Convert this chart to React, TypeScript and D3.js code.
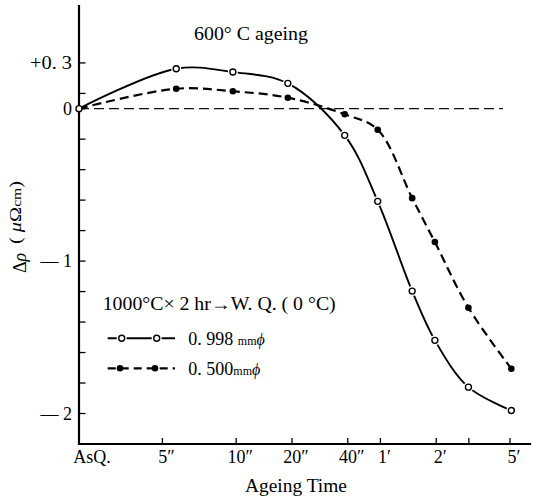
import React from "react";
import * as d3 from "d3";

// ---- data ----
const ASQ_T = 1.42; // pseudo-time (s) used to place the as-quenched state on the log axis
const TIMES = [ASQ_T, 4.75, 9.6, 19, 38.5, 58, 89, 118, 179, 305]; // seconds
const WIRE_0998 = [0, 0.262, 0.24, 0.166, -0.175, -0.608, -1.197, -1.52, -1.827, -1.98];
const WIRE_0500 = [0, 0.131, 0.114, 0.072, -0.037, -0.138, -0.587, -0.875, -1.306, -1.706];
const X_TICK_VALUES = [ASQ_T, 4, 10, 20, 40, 60, 120, 180, 300];
const X_TICK_LABELS = ["AsQ.", "5\u2033", "10\u2033", "20\u2033", "40\u2033", "1\u2032", "2\u2032", "", "5\u2032"];
const Y_TICK_VALUES = [0.3, 0.1, 0, -0.2, -0.4, -0.6, -0.8, -1.0, -1.2, -1.4, -1.6, -1.8, -2.0];
const Y_TICK_LABELS: Record<string, string> = { "0.3": "+0. 3", "0": "0", "-1": "\u2014 1", "-2": "\u2014 2" };
const ZERO_LINE = [ASQ_T, 275];
const X_AXIS_END = 390;
const Y_DOMAIN = [-2.2, 0.68];

const FONT = "'Liberation Serif', 'DejaVu Serif', serif";

export default function App() {
  const W = 534, H = 496;
  const x = d3.scaleLog().domain([ASQ_T, 300]).range([79, 510]);
  const y = d3.scaleLinear().domain(Y_DOMAIN).range([444, 5]);

  const line = d3
    .line<[number, number]>()
    .x((d) => x(d[0]))
    .y((d) => y(d[1]))
    .curve(d3.curveCatmullRom.alpha(0.5));

  const s998: [number, number][] = TIMES.map((t, i) => [t, WIRE_0998[i]]);
  const s500: [number, number][] = TIMES.map((t, i) => [t, WIRE_0500[i]]);

  const x0 = x(ASQ_T);
  const yBottom = y(Y_DOMAIN[0]);
  const yTop = y(Y_DOMAIN[1]);

  return (
    <svg
      width={W}
      height={H}
      viewBox={`0 0 ${W} ${H}`}
      style={{ position: "absolute", left: 0, top: 0, display: "block", background: "#fff" }}
      fontFamily={FONT}
    >
      <rect x={0} y={0} width={W} height={H} fill="#fff" />

      {/* zero reference line */}
      <line
        x1={x(ZERO_LINE[0])}
        x2={x(ZERO_LINE[1])}
        y1={y(0)}
        y2={y(0)}
        stroke="#111"
        strokeWidth={1.3}
        strokeDasharray="10,5"
      />

      {/* axes */}
      <line x1={x0} x2={x0} y1={yTop} y2={yBottom + 1} stroke="#000" strokeWidth={2.2} />
      <line x1={x0 - 1} x2={x(X_AXIS_END)} y1={yBottom} y2={yBottom} stroke="#000" strokeWidth={2.2} />

      {/* y ticks */}
      {Y_TICK_VALUES.map((v) => (
        <g key={"yt" + v}>
          <line x1={x0} x2={x0 + 6.5} y1={y(v)} y2={y(v)} stroke="#000" strokeWidth={1.3} />
          {Y_TICK_LABELS[String(v)] !== undefined && (
            <text
              x={x0 - 7}
              y={y(v)}
              dy="0.35em"
              textAnchor="end"
              fontSize={18}
              fill="#000"
              {...(v === 0.3 ? { textLength: 42, lengthAdjust: "spacingAndGlyphs" } : {})}
            >
              {Y_TICK_LABELS[String(v)]}
            </text>
          )}
        </g>
      ))}

      {/* x ticks */}
      {X_TICK_VALUES.map((t, i) => (
        <g key={"xt" + i}>
          {i > 0 && (
            <line x1={x(t)} x2={x(t)} y1={yBottom} y2={yBottom - 6} stroke="#000" strokeWidth={1.3} />
          )}
          {X_TICK_LABELS[i] && (
            <text
              x={x(t) + (i === 0 ? 13 : 4)}
              y={yBottom + 18.5}
              textAnchor="middle"
              fontSize={18}
              fill="#000"
            >
              {X_TICK_LABELS[i]}
            </text>
          )}
        </g>
      ))}

      {/* axis titles */}
      <text x={296} y={491.5} textAnchor="middle" fontSize={18} textLength={102} lengthAdjust="spacingAndGlyphs">
        Ageing Time
      </text>
      <text transform="translate(26,273) rotate(-90)" fontSize={18} textAnchor="start">
        Δ<tspan fontStyle="italic">ρ</tspan>
      </text>
      <text
        transform="translate(21,244) rotate(-90)"
        fontSize={17}
        textAnchor="start"
        textLength={63}
        lengthAdjust="spacingAndGlyphs"
      >
        <tspan>( </tspan>
        <tspan fontStyle="italic">μ</tspan>
        <tspan>Ω</tspan>
        <tspan fontSize={13}>cm</tspan>
        <tspan>)</tspan>
      </text>

      {/* title */}
      <text x={194} y={40} fontSize={18} textLength={114} lengthAdjust="spacingAndGlyphs">
        600° C  ageing
      </text>

      {/* series 0.500 mm (dashed, filled markers) */}
      <path d={line(s500) || ""} fill="none" stroke="#000" strokeWidth={2.2} strokeDasharray="9,5" />
      {s500.slice(1).map((d, i) => (
        <circle key={"f" + i} cx={x(d[0])} cy={y(d[1])} r={3.3} fill="#000" />
      ))}

      {/* series 0.998 mm (solid, open markers) */}
      <path d={line(s998) || ""} fill="none" stroke="#000" strokeWidth={1.9} />
      {s998.slice(1).map((d, i) => (
        <g key={"o" + i}>
          <circle cx={x(d[0])} cy={y(d[1])} r={5} fill="#fff" />
          <circle cx={x(d[0])} cy={y(d[1])} r={3} fill="#fff" stroke="#000" strokeWidth={1.4} />
        </g>
      ))}
      {/* as-quenched origin marker */}
      <circle cx={x0} cy={y(0)} r={3} fill="#fff" stroke="#000" strokeWidth={1.4} />

      {/* legend */}
      <text x={102.7} y={309.5} fontSize={18} textLength={233} lengthAdjust="spacingAndGlyphs">
        1000°C× 2 hr→W. Q. ( 0 °C)
      </text>
      <g>
        <line x1={107.7} x2={175} y1={338.3} y2={338.3} stroke="#000" strokeWidth={1.9} />
        {[121.7, 156.7].map((cx) => (
          <g key={"lo" + cx}>
            <circle cx={cx} cy={338.3} r={5} fill="#fff" />
            <circle cx={cx} cy={338.3} r={3} fill="#fff" stroke="#000" strokeWidth={1.4} />
          </g>
        ))}
        <text x={188.3} y={344.5} fontSize={18}>
          <tspan>0. 998 </tspan>
          <tspan fontSize={12}> mm</tspan>
          <tspan fontSize={16} fontStyle="italic">ϕ</tspan>
        </text>
      </g>
      <g>
        <line x1={107.7} x2={175} y1={368.3} y2={368.3} stroke="#000" strokeWidth={2.2} strokeDasharray="8,5" />
        {[120, 155].map((cx) => (
          <circle key={"lf" + cx} cx={cx} cy={368.3} r={3.3} fill="#000" />
        ))}
        <text x={188.3} y={374.5} fontSize={18}>
          <tspan>0. 500</tspan>
          <tspan fontSize={12}>mm</tspan>
          <tspan fontSize={16} fontStyle="italic">ϕ</tspan>
        </text>
      </g>
    </svg>
  );
}
